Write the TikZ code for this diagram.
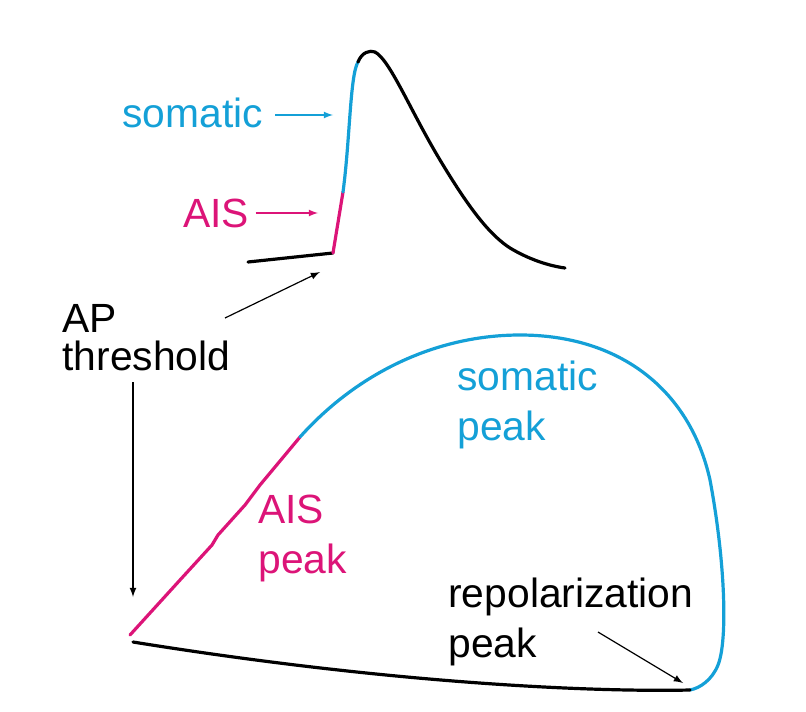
\documentclass[tikz,border=0pt]{standalone}
\usepackage{fontspec}
\setmainfont{Liberation Sans}
\begin{document}
\begin{tikzpicture}[x=0.5pt,y=-0.5pt,
  trace/.style={line width=1.6pt,line cap=round,line join=round},
  lbl/.style={font=\fontsize{20.4}{25}\selectfont,anchor=west,inner sep=0pt,align=left},
  arr/.style={-latex,line width=0.6pt}]
\definecolor{cy}{RGB}{20,160,215}
\definecolor{mg}{RGB}{220,20,120}
\useasboundingbox (0,0) rectangle (806,711);
% top trace
\coordinate (t0) at (248,262);
\coordinate (t1) at (333,253);
\coordinate (t2) at (343,192);
\coordinate (t3) at (375,52);
\coordinate (t4) at (565,268);
\draw[trace] (t0) .. controls (290,257) .. (t1);
\draw[trace,mg] (t1) -- (t2);
\draw[trace,cy] (t2) .. controls (350,140) and (350,75) .. (358,62);
\draw[trace] (358,62) .. controls (362,52) and (370,50) .. (t3);
\draw[trace] (t3) .. controls (390,60) and (410,110) .. (440,160) .. controls (470,210) and (490,235) .. (510,248) .. controls (530,260) and (550,266) .. (t4);
% top labels
\node[lbl,text=cy] (som) at (122,113) {somatic};
\coordinate (somA) at (333,115);
\draw[arr,cy] (275,115) -- (somA);
\node[lbl,text=mg] (ais) at (183,213) {AIS};
\coordinate (aisA) at (318,213);
\draw[arr,mg] (ais.east)++(6,0) -- (aisA);
\node[lbl,font=\fontsize{20.4}{19}\selectfont] (ap) at (62,338) {AP\\threshold};
\coordinate (apA) at (320,272);
\coordinate (apB) at (133,597);
\draw[arr] (225,318) -- (apA);
\draw[arr] (133,382) -- (apB);
% bottom loop
\coordinate (b0) at (130,635);
\coordinate (b1) at (300,437);
\coordinate (b2) at (690,690);
\draw[trace,mg] (b0) -- (180,580) -- (212,545) -- (218,535) -- (245,505) -- (260,485) -- (b1);
\draw[trace,cy] (b1) .. controls (360,370) and (440,335) .. (520,335) .. controls (620,335) and (690,390) .. (710,480) .. controls (725,560) and (728,640) .. (718,665) .. controls (712,680) and (700,688) .. (b2);
\draw[trace] (b2) .. controls (600,692) and (400,685) .. (133,642);
\node[lbl,text=cy] (sp) at (457,405) {somatic\\peak};
\node[lbl,text=mg] (ap2) at (258,538) {AIS\\peak};
\node[lbl] (rp) at (448,622) {repolarization\\peak};
\coordinate (rpA) at (683,683);
\draw[arr] (598,632) -- (rpA);
\end{tikzpicture}
\end{document}
